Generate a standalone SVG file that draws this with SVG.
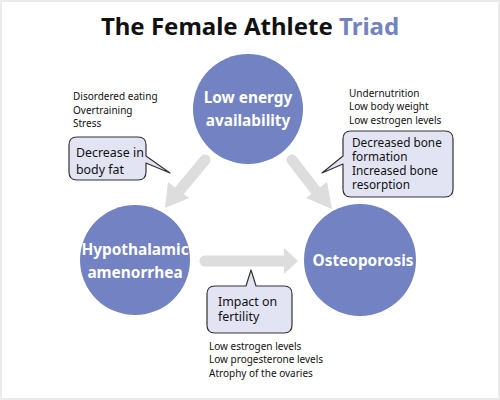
<svg xmlns="http://www.w3.org/2000/svg" width="500" height="400" viewBox="0 0 500 400">
<defs>
<style>
.t{font-family:"Noto Sans","Liberation Sans",sans-serif;fill:#111}
.s{font-size:10px}
.c{font-size:12.4px}
.c2{font-size:11.8px}
.n{font-size:15.4px;font-weight:bold;fill:#fff;text-anchor:middle}
.node{fill:#7282c2}
.call{fill:#e2e4f4;stroke:#333;stroke-width:1.2;stroke-linejoin:round}
.arr{stroke:#dddddd;stroke-width:11;stroke-linecap:round;fill:none}
.head{fill:#dddddd}
</style>
</defs>
<rect x="0" y="0" width="500" height="400" fill="#ebebeb"/>
<rect x="2" y="2" width="496" height="396" fill="#fff"/>
<text class="t" x="250" y="35" text-anchor="middle" font-size="24" font-weight="bold">The Female Athlete <tspan fill="#7282c2">Triad</tspan></text>

<g id="connectors">
<line class="arr" x1="205" y1="160" x2="180" y2="190"/>
<polygon class="head" points="165,208 168,182 189,198"/>
<line class="arr" x1="292" y1="160" x2="316" y2="191"/>
<polygon class="head" points="332,209 306,198 327,182"/>
<line class="arr" x1="205" y1="261" x2="285" y2="261"/>
<polygon class="head" points="298,261 284,248 284,274"/>
</g>

<g id="low-energy">
<circle class="node" cx="248" cy="109" r="55"/>
<text class="t n" x="248" y="103">Low energy</text>
<text class="t n" x="248" y="126">availability</text>
</g>
<g id="hypothalamic">
<circle class="node" cx="135" cy="260" r="55"/>
<text class="t n" x="135" y="255">Hypothalamic</text>
<text class="t n" x="135" y="278">amenorrhea</text>
</g>
<g id="osteoporosis">
<circle class="node" cx="360" cy="260" r="56"/>
<text class="t n" x="363" y="266">Osteoporosis</text>
</g>

<g id="causes-left">
<text class="t s" x="73" y="100">Disordered eating</text>
<text class="t s" x="73" y="114">Overtraining</text>
<text class="t s" x="73" y="127">Stress</text>
</g>
<g id="callout-body-fat">
<path class="call" d="M77,137 H138 Q146,137 146,145 V156 L170,173 L146,163 V172 Q146,180 138,180 H77 Q69,180 69,172 V145 Q69,137 77,137 Z"/>
<text class="t c" x="76" y="157">Decrease in</text>
<text class="t c" x="76" y="174">body fat</text>
</g>
<g id="causes-right">
<text class="t s" x="349" y="97">Undernutrition</text>
<text class="t s" x="349" y="110">Low body weight</text>
<text class="t s" x="349" y="124">Low estrogen levels</text>
</g>
<g id="callout-bone">
<path class="call" d="M351,131 H445 Q453,131 453,139 V189 Q453,197 445,197 H351 Q343,197 343,189 V164 L322,173 L343,156 V139 Q343,131 351,131 Z"/>
<text class="t c2" x="352" y="147">Decreased bone</text>
<text class="t c2" x="352" y="161">formation</text>
<text class="t c2" x="352" y="175">Increased bone</text>
<text class="t c2" x="352" y="189">resorption</text>
</g>
<g id="callout-fertility">
<path class="call" d="M215,286 H246 L251,270 L256,286 H284 Q292,286 292,294 V325 Q292,333 284,333 H215 Q207,333 207,325 V294 Q207,286 215,286 Z"/>
<text class="t c" x="218" y="306">Impact on</text>
<text class="t c" x="218" y="321">fertility</text>
</g>
<g id="effects-bottom">
<text class="t s" x="209" y="350">Low estrogen levels</text>
<text class="t s" x="209" y="363">Low progesterone levels</text>
<text class="t s" x="209" y="377">Atrophy of the ovaries</text>
</g>
</svg>
